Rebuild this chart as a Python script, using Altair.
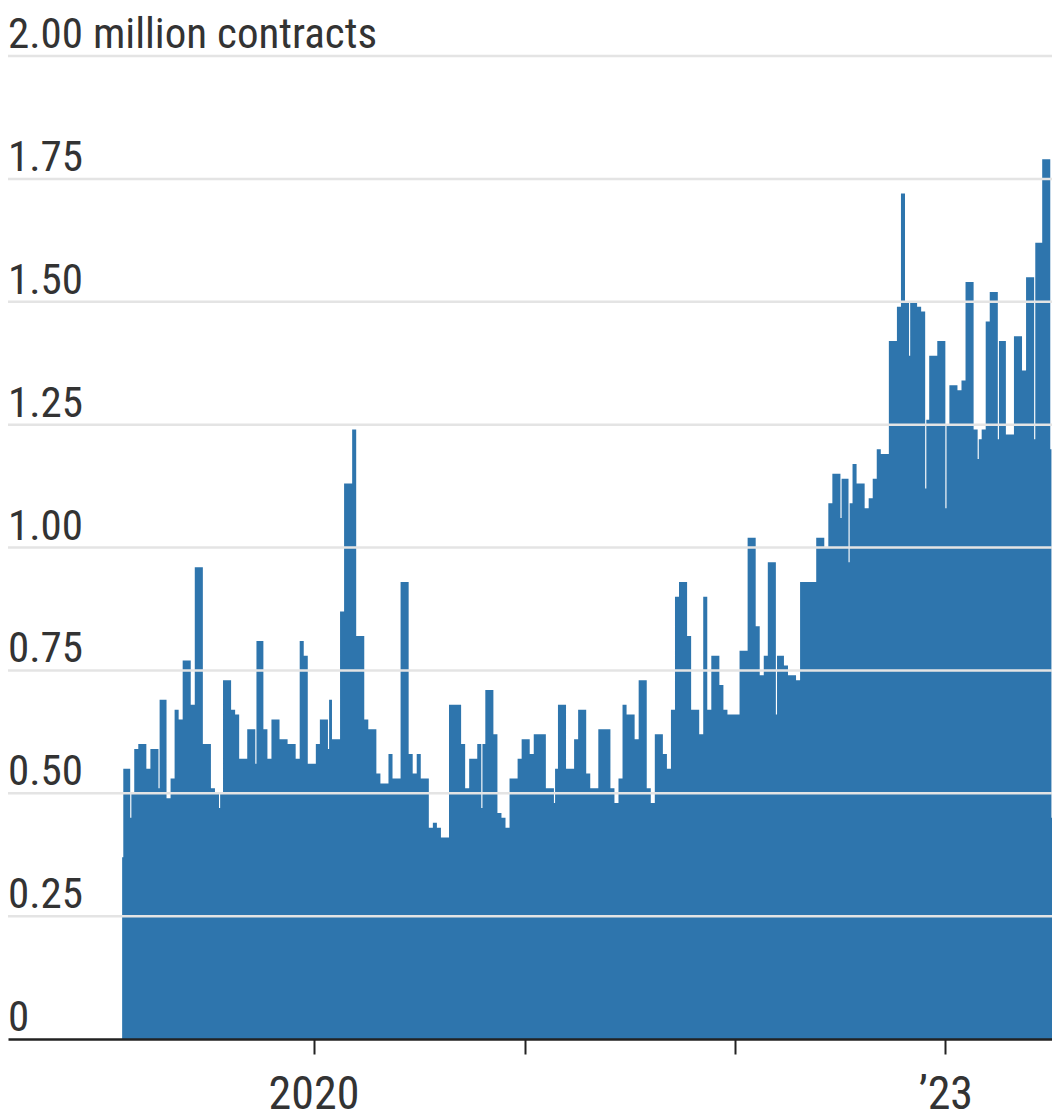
import altair as alt
import pandas as pd

FONT = "'Liberation Sans Narrow', 'Roboto Condensed', Roboto, sans-serif"
BLUE = "#2e75ad"

# Weekly contracts (millions), weeks starting 2019-02-03
start_week = "2019-02-03"
weekly_values = [
    0.55, 0.55, 0.50, 0.59, 0.60, 0.60, 0.55, 0.59, 0.59, 0.69,
    0.69, 0.49, 0.53, 0.67, 0.65, 0.77, 0.77, 0.68, 0.96, 0.96,
    0.60, 0.60, 0.51, 0.50, 0.50, 0.73, 0.73, 0.67, 0.66, 0.57,
    0.57, 0.63, 0.63, 0.81, 0.81, 0.63, 0.57, 0.65, 0.65, 0.61,
    0.61, 0.60, 0.60, 0.57, 0.81, 0.78, 0.56, 0.56, 0.60, 0.65,
    0.65, 0.69, 0.61, 0.61, 0.87, 1.13, 1.13, 1.24, 0.82, 0.82,
    0.65, 0.63, 0.63, 0.54, 0.52, 0.52, 0.58, 0.53, 0.53, 0.93,
    0.93, 0.58, 0.54, 0.58, 0.53, 0.53, 0.43, 0.44, 0.43, 0.41,
    0.41, 0.68, 0.68, 0.68, 0.60, 0.51, 0.57, 0.57, 0.60, 0.60,
    0.71, 0.71, 0.62, 0.46, 0.45, 0.43, 0.53, 0.53, 0.57, 0.61,
    0.61, 0.58, 0.62, 0.62, 0.62, 0.51, 0.51, 0.55, 0.68, 0.68,
    0.55, 0.55, 0.61, 0.67, 0.67, 0.54, 0.51, 0.51, 0.63, 0.63,
    0.63, 0.51, 0.48, 0.53, 0.68, 0.66, 0.66, 0.61, 0.73, 0.73,
    0.51, 0.48, 0.62, 0.62, 0.58, 0.55, 0.67, 0.90, 0.93, 0.93,
    0.82, 0.67, 0.67, 0.62, 0.90, 0.67, 0.78, 0.78, 0.72, 0.67,
    0.66, 0.66, 0.66, 0.79, 0.79, 1.02, 1.02, 0.84, 0.74, 0.78,
    0.97, 0.97, 0.78, 0.78, 0.76, 0.74, 0.74, 0.73, 0.93, 0.93,
    0.93, 0.93, 1.02, 1.02, 1.00, 1.09, 1.15, 1.15, 1.14, 1.14,
    1.09, 1.17, 1.13, 1.13, 1.08, 1.10, 1.14, 1.20, 1.19, 1.19,
    1.42, 1.42, 1.49, 1.72, 1.50, 1.50, 1.50, 1.49, 1.48, 1.26,
    1.39, 1.39, 1.42, 1.42, 1.25, 1.33, 1.33, 1.32, 1.34, 1.54,
    1.54, 1.24, 1.22, 1.24, 1.46, 1.52, 1.52, 1.42, 1.42, 1.23,
    1.23, 1.43, 1.43, 1.36, 1.55, 1.55, 1.62, 1.62, 1.79, 1.79,
    1.20,
]

# Brief one-off drops at the start of some weeks
dip_weeks = [0, 2, 9, 24, 33, 51, 89, 107, 162, 178, 180, 195, 199, 204, 212, 217, 226]
dip_values = [0.37, 0.45, 0.51, 0.47, 0.56, 0.59, 0.47, 0.48, 0.66, 1.06, 0.97,
              1.39, 1.12, 1.08, 1.18, 1.22, 1.22]

tail_dates = ["2023-07-04", "2023-07-09"]
tail_values = [0.45, 0.45]

grid_values = [0.25, 0.5, 0.75, 1.0, 1.25, 1.5, 1.75, 2.0]
label_values = [0, 0.25, 0.5, 0.75, 1.0, 1.25, 1.5, 1.75, 2.0]
label_texts = ["0", "0.25", "0.50", "0.75", "1.00", "1.25", "1.50", "1.75",
               "2.00 million contracts"]
tick_years = [2020, 2021, 2022, 2023]

# ---- build table ----
dips = dict(zip(dip_weeks, dip_values))
week_dates = pd.date_range(start_week, periods=len(weekly_values), freq="7D")
rows = []
for i, (d, v) in enumerate(zip(week_dates, weekly_values)):
    if i in dips:
        rows.append({"date": d, "contracts": dips[i]})
        rows.append({"date": d + pd.Timedelta(days=2), "contracts": v})
    else:
        rows.append({"date": d, "contracts": v})
for d, v in zip(tail_dates, tail_values):
    rows.append({"date": pd.Timestamp(d), "contracts": v})
df = pd.DataFrame(rows)
df["date"] = df["date"].dt.strftime("%Y-%m-%dT%H:%M:%S")

labels_df = pd.DataFrame({"value": label_values, "label": label_texts})
grid_df = pd.DataFrame({"value": grid_values})

x_scale = alt.Scale(domain=[alt.DateTime(year=2018, month=7, date=20),
                            alt.DateTime(year=2023, month=7, date=5)])
y_scale = alt.Scale(domain=[0, 2.0], nice=False)

area = alt.Chart(df).mark_area(
    interpolate="step-after", color=BLUE, clip=True
).encode(
    x=alt.X(
        "date:T",
        scale=x_scale,
        axis=alt.Axis(
            values=[alt.DateTime(year=y, month=1, date=1) for y in tick_years],
            labelExpr="year(datum.value) == 2020 ? '2020' : (year(datum.value) == 2023 ? '\u201923' : '')",
            title=None,
            grid=False,
            domainColor="#222222",
            domainWidth=2.5,
            tickColor="#222222",
            tickWidth=2,
            tickSize=15,
            labelFont=FONT,
            labelFontSize=46,
            labelColor="#333333",
            labelPadding=18,
            labelFlush=False,
            labelOverlap=False,
            zindex=1,
        ),
    ),
    y=alt.Y("contracts:Q", scale=y_scale, axis=None),
)

grid = alt.Chart(grid_df).mark_rule(color="#e4e4e4", strokeWidth=2.5).encode(
    y=alt.Y("value:Q", scale=y_scale, axis=None),
)

text = alt.Chart(labels_df).mark_text(
    align="left", baseline="alphabetic", dy=-8, fontSize=43, font=FONT, color="#333333"
).encode(
    x=alt.value(0),
    y=alt.Y("value:Q", scale=y_scale, axis=None),
    text="label:N",
)

chart = alt.layer(area, grid, text).properties(
    width=1044,
    height=983,
    autosize=alt.AutoSizeParams(type="none"),
    padding={"left": 0, "top": 48, "right": 0, "bottom": 80},
    background="white",
).configure_view(stroke=None)

chart.save("out.html", embed_options={"renderer": "svg", "actions": False})
